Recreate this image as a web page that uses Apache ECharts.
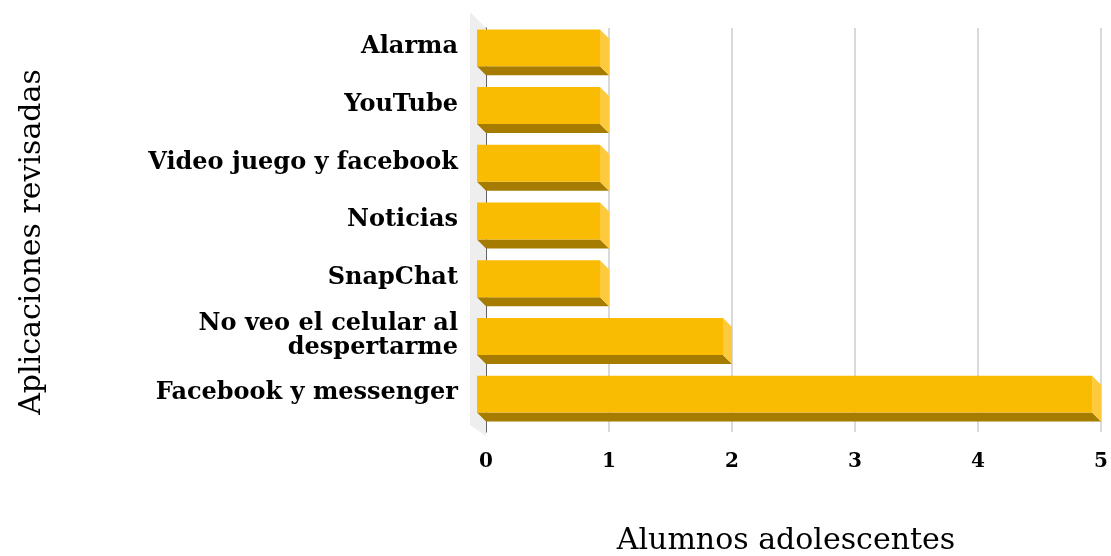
<!DOCTYPE html>
<html>
<head>
<meta charset="utf-8">
<script src="https://cdn.jsdelivr.net/npm/echarts@6/dist/echarts.min.js"></script>
<style>
html, body { margin: 0; padding: 0; background: #fff; }
#chart { width: 1111px; height: 556px; }
</style>
</head>
<body>
<div id="chart"></div>
<script>
// categorias de abajo hacia arriba
var apps = ['Facebook y messenger', 'No veo el celular al\ndespertarme', 'SnapChat', 'Noticias', 'Video juego y facebook', 'YouTube', 'Alarma'];
var alumnos = [5, 2, 1, 1, 1, 1, 1];
var ticks = [0, 1, 2, 3, 4, 5];

var depth = 9;
var colFront = '#F9BC02', colBottom = '#A67C00', colSide = '#FDCA3E';
var labelFont = 'DejaVu Serif';

var chart = echarts.init(document.getElementById('chart'));

function renderBar(params, api) {
	var i = api.value(0);
	var v = api.value(1);
	var p0 = api.coord([0, i]);
	var p1 = api.coord([v, i]);
	var h = api.size([0, 1])[1] * 0.64;
	var x0 = p0[0], x1 = p1[0];
	var yT = p0[1] - h / 2, yB = p0[1] + h / 2;
	var d = depth;
	return {
		type: 'group',
		children: [{
			type: 'polygon',
			shape: {points: [[x0 - d, yB - d], [x1 - d, yB - d], [x1, yB], [x0, yB]]},
			style: {fill: colBottom}
		}, {
			type: 'polygon',
			shape: {points: [[x1 - d, yT - d], [x1, yT], [x1, yB], [x1 - d, yB - d]]},
			style: {fill: colSide}
		}, {
			type: 'rect',
			shape: {x: x0 - d, y: yT - d, width: x1 - x0, height: yB - yT},
			style: {fill: colFront}
		}, {
			// etiqueta de categoria alineada con la cara frontal
			type: 'text',
			x: x0 - 28,
			y: p0[1] - d - 1,
			style: {
				text: apps[i],
				fill: '#000',
				font: 'bold 24px "' + labelFont + '"',
				lineHeight: 24,
				align: 'right',
				verticalAlign: 'middle'
			}
		}]
	};
}

// pared lateral gris
function renderWall(params, api) {
	var band = api.size([0, 1])[1];
	var top = api.coord([0, apps.length - 1]);
	var bot = api.coord([0, 0]);
	var yTop = top[1] - band / 2, yBot = bot[1] + band / 2;
	var x = top[0], w = 16;
	return {
		type: 'polygon',
		shape: {points: [[x - w, yTop - w], [x, yTop], [x, yBot + 4], [x - w, yBot - 7]]},
		style: {fill: '#EEEEEE'}
	};
}

var barData = [];
for (var i = 0; i < apps.length; i++) {
	barData.push([i, alumnos[i]]);
}

chart.setOption({
	animation: false,
	grid: {left: 486, right: 9, top: 28, bottom: 124},
	xAxis: {
		type: 'value',
		min: 0,
		max: 5,
		interval: 1,
		axisLine: {show: false},
		axisTick: {show: false},
		splitLine: {show: true, lineStyle: {color: '#D9D9D9', width: 2}},
		axisLabel: {
			margin: 20,
			color: '#000',
			fontFamily: labelFont,
			fontWeight: 'bold',
			fontSize: 20,
			formatter: function (val) { return ticks.indexOf(val) >= 0 ? String(val) : ''; }
		}
	},
	yAxis: {
		type: 'category',
		data: apps,
		axisLine: {show: true, onZero: false, lineStyle: {color: '#3a3a3a', width: 1.5}},
		axisTick: {show: false},
		axisLabel: {show: false}
	},
	graphic: [{
		type: 'text',
		x: 32,
		y: 242,
		rotation: Math.PI / 2,
		style: {
			text: 'Aplicaciones revisadas',
			fontFamily: labelFont,
			fontSize: 30,
			fill: '#000',
			align: 'center',
			verticalAlign: 'middle'
		}
	}, {
		type: 'text',
		x: 786,
		y: 541,
		style: {
			text: 'Alumnos adolescentes',
			fontFamily: labelFont,
			fontSize: 30,
			fill: '#000',
			align: 'center',
			verticalAlign: 'middle'
		}
	}],
	series: [{
		type: 'custom',
		renderItem: renderWall,
		data: [[0, 0]],
		z: 1,
		silent: true
	}, {
		type: 'custom',
		renderItem: renderBar,
		encode: {x: 1, y: 0},
		data: barData,
		z: 3
	}]
});
</script>
</body>
</html>
